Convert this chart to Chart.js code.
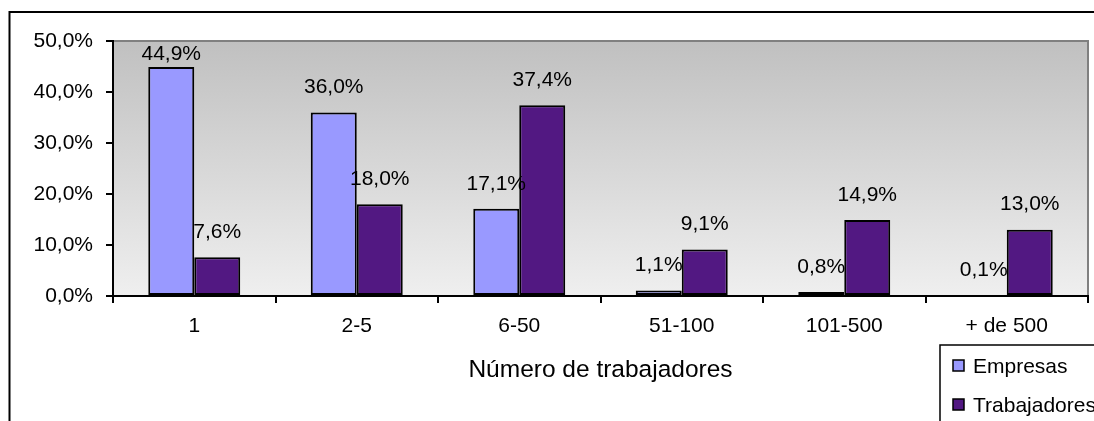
<!DOCTYPE html>
<html><head><meta charset="utf-8">
<script src="https://cdn.jsdelivr.net/npm/chart.js@4.4.1/dist/chart.umd.min.js"></script>
<style>html,body{margin:0;padding:0;background:#fff;overflow:hidden}#wrap{width:1094px;height:421px;position:relative;overflow:hidden}</style>
</head><body><div id="wrap"><canvas id="c" width="1094" height="421"></canvas></div>
<script>
const categories = ['1', '2-5', '6-50', '51-100', '101-500', '+ de 500'];
const empresas = [44.9, 36.0, 17.1, 1.1, 0.8, 0.1];
const trabajadores = [7.6, 18.0, 37.4, 9.1, 14.9, 13.0];
const yTicks = [0, 10, 20, 30, 40, 50];
const seriesNames = ['Empresas', 'Trabajadores'];
const axisTitle = 'Número de trabajadores';

const FONT = '"Liberation Sans", Arial, sans-serif';
const COL_EMP = '#9999ff';
const COL_TRA = '#521882';
const fmt = v => v.toFixed(1).replace('.', ',') + '%';

const framePlugin = {
  id: 'frame',
  beforeDraw(chart) {
    const {ctx, chartArea: a} = chart;
    ctx.save();
    ctx.fillStyle = '#fff';
    ctx.fillRect(0, 0, chart.width, chart.height);
    const g = ctx.createLinearGradient(0, a.top, 0, a.bottom);
    g.addColorStop(0, '#c0c0c0');
    g.addColorStop(1, '#efefef');
    ctx.fillStyle = g;
    ctx.fillRect(a.left, a.top, a.right - a.left, a.bottom - a.top);
    ctx.strokeStyle = '#808080';
    ctx.lineWidth = 2;
    ctx.beginPath();
    ctx.moveTo(a.left, a.top);
    ctx.lineTo(a.right, a.top);
    ctx.lineTo(a.right, a.bottom);
    ctx.stroke();
    ctx.strokeStyle = '#000';
    ctx.lineWidth = 2;
    ctx.beginPath();
    ctx.moveTo(chart.width + 5, 12);
    ctx.lineTo(9.5, 12);
    ctx.lineTo(9.5, chart.height + 5);
    ctx.stroke();
    ctx.restore();
  },
  afterDatasetsDraw(chart) {
    const {ctx} = chart;
    ctx.save();
    ctx.font = '21px ' + FONT;
    ctx.fillStyle = '#000';
    ctx.textAlign = 'center';
    ctx.textBaseline = 'middle';
    chart.data.datasets.forEach((ds, i) => {
      const meta = chart.getDatasetMeta(i);
      meta.data.forEach((el, j) => {
        const y = Math.max(el.y - 25, 54);
        ctx.fillText(fmt(ds.data[j]), el.x, y);
      });
    });
    ctx.restore();
  },
  afterDraw(chart) {
    const {ctx} = chart;
    ctx.save();
    ctx.fillStyle = '#fff';
    ctx.fillRect(940, 345, 200, 100);
    ctx.strokeStyle = '#000';
    ctx.lineWidth = 1.5;
    ctx.strokeRect(940, 345, 200, 100);
    const items = [[seriesNames[0], COL_EMP, 366], [seriesNames[1], COL_TRA, 405]];
    ctx.font = '21px ' + FONT;
    ctx.textBaseline = 'middle';
    ctx.textAlign = 'left';
    items.forEach(([t, c, y]) => {
      ctx.fillStyle = c;
      ctx.fillRect(953, y - 6, 11, 11);
      ctx.strokeStyle = '#000';
      ctx.lineWidth = 1.5;
      ctx.strokeRect(953, y - 6, 11, 11);
      ctx.fillStyle = '#000';
      ctx.fillText(t, 973, y + 1);
    });
    ctx.restore();
  }
};

new Chart(document.getElementById('c'), {
  type: 'bar',
  data: {
    labels: categories,
    datasets: [
      {label: seriesNames[0], data: empresas, backgroundColor: COL_EMP, borderColor: '#000', borderWidth: 2, borderSkipped: false,
       categoryPercentage: 0.566, barPercentage: 1.0},
      {label: seriesNames[1], data: trabajadores, backgroundColor: COL_TRA, borderColor: '#000', borderWidth: 2, borderSkipped: false,
       categoryPercentage: 0.566, barPercentage: 1.0}
    ]
  },
  options: {
    responsive: false,
    animation: false,
    devicePixelRatio: 1,
    layout: {padding: {top: 41, right: 6, bottom: 0, left: 0}},
    plugins: {legend: {display: false}, tooltip: {enabled: false}},
    scales: {
      x: {
        grid: {offset: true, drawOnChartArea: false, tickLength: 7, color: '#000', lineWidth: 2},
        border: {color: '#000', width: 2},
        ticks: {font: {family: FONT, size: 21}, color: '#000', padding: 11, maxRotation: 0, autoSkip: false},
        title: {display: true, text: axisTitle, font: {family: FONT, size: 24.5}, color: '#000', padding: {top: 0, bottom: 36}},
        afterFit: s => { s.height = 125; }
      },
      y: {
        min: 0, max: 50,
        afterBuildTicks: s => { s.ticks = yTicks.map(v => ({value: v})); },
        grid: {drawOnChartArea: false, tickLength: 7, color: '#000', lineWidth: 2},
        border: {color: '#000', width: 2},
        ticks: {font: {family: FONT, size: 21}, color: '#000', padding: 13, callback: v => fmt(v)},
        afterFit: s => { s.width = 113; }
      }
    }
  },
  plugins: [framePlugin]
});
</script></body></html>
